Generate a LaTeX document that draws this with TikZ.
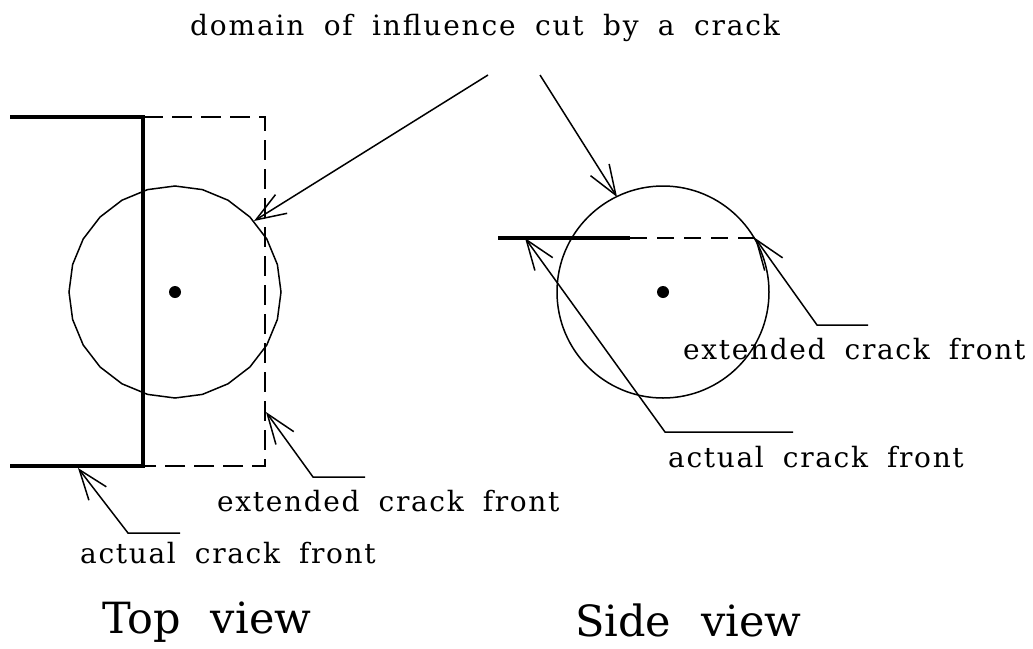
\documentclass[tikz,border=0pt]{standalone}
\usepackage{fontspec}
\newfontfamily\lblfont[LetterSpace=6,WordSpace=1.8]{DejaVu Serif}
\newfontfamily\titlefont[LetterSpace=6.6,WordSpace=1.8]{DejaVu Serif}
\newfontfamily\bigfont[WordSpace=2.2]{DejaVu Serif}
\usetikzlibrary{arrows.meta}
\begin{document}
\begin{tikzpicture}[x=1pt,y=-1pt,
  thinline/.style={line width=1.5pt},
  thickline/.style={line width=3.5pt},
  dashline/.style={line width=1.5pt, dash pattern=on 20pt off 9pt},
  arr/.style={thinline, -{Straight Barb[length=30pt,width=22pt]}},
  lbl/.style={inner sep=0pt, anchor=base west, font=\lblfont\fontsize{28}{32}\selectfont},
  ttl/.style={inner sep=0pt, anchor=base west, font=\titlefont\fontsize{28}{32}\selectfont},
  big/.style={inner sep=0pt, anchor=base west, text depth=0pt, font=\bigfont\fontsize{43}{48}\selectfont},
  dot/.style={circle, fill=black, inner sep=0pt, minimum size=12pt}]
\useasboundingbox (0,0) rectangle (1033,648);

% ---- labels
\node[ttl] (title) at (190,35) {domain of influence cut by a crack};
\node[lbl] (extT) at (217,511) {extended crack front};
\node[lbl] (actT) at (80,563) {actual crack front};
\node[lbl] (extS) at (683,359) {extended crack front};
\node[lbl] (actS) at (668,467) {actual crack front};
\node[big] (topv) at (102,633) {Top view};
\node[big] (sidev) at (575,636) {Side view};

% ---- top view
\draw[thickline] (10,117) -- (143,117) -- (143,466) -- (10,466);
\draw[dashline] (143,117) -- (265,117) -- (265,466) -- (143,466);
\draw[thinline] plot[domain=0:360, samples=25] ({175+106*cos(\x)},{292+106*sin(\x)}) -- cycle;
\node[dot] (c1) at (175,292) {};

% ---- side view
\node[circle, draw, thinline, minimum size=212pt, inner sep=0pt] (circS) at (663,292) {};
\node[dot] (c2) at (663,292) {};
\draw[thickline] (498,238) -- (630,238);
\draw[dashline, dash pattern=on 17pt off 10pt] (630,238) -- (756,238);

% ---- arrows
\coordinate (a1s) at (488,75);
\coordinate (a1t) at (254,221);
\coordinate (a2s) at (540,75);
\coordinate (a2t) at (617,197);
\draw[arr] (a1s) -- (a1t);
\draw[arr] (a2s) -- (a2t);

\coordinate (e1e) at (365,477);
\coordinate (e1k) at (313,477);
\coordinate (e1t) at (266,412);
\draw[arr] (e1e) -- (e1k) -- (e1t);

\coordinate (t1e) at (180,533);
\coordinate (t1k) at (128,533);
\coordinate (t1t) at (78,468);
\draw[arr] (t1e) -- (t1k) -- (t1t);

\coordinate (s1e) at (793,432);
\coordinate (s1k) at (665,432);
\coordinate (s1t) at (525,238);
\draw[arr] (s1e) -- (s1k) -- (s1t);

\coordinate (s2e) at (868,325);
\coordinate (s2k) at (817,325);
\coordinate (s2t) at (755,238);
\draw[arr] (s2e) -- (s2k) -- (s2t);
\end{tikzpicture}
\end{document}
